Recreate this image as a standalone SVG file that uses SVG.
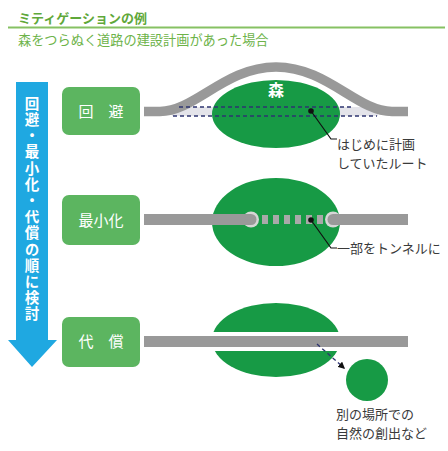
<svg xmlns="http://www.w3.org/2000/svg" width="448" height="451" viewBox="0 0 448 451">
<defs>
<style>
.jp{font-family:"Noto Sans CJK JP","Noto Sans CJK SC",sans-serif;}
.box{fill:#5cb560;}
.boxt{fill:#fff;font-size:15px;text-anchor:middle;}
.forest{fill:#179a45;}
.road{stroke:#999;fill:none;}
.lbl{fill:#3a3a3a;font-size:13px;}
.dash{stroke:#2e3470;stroke-width:1.3;stroke-dasharray:4 3;fill:none;}
.lead{stroke:#111;stroke-width:1.2;fill:none;}
.vt{fill:#fff;font-size:14.5px;font-weight:bold;writing-mode:vertical-rl;letter-spacing:1.7px;}
</style>
<marker id="ah" viewBox="0 0 10 10" refX="8" refY="5" markerWidth="7" markerHeight="7" orient="auto" markerUnits="userSpaceOnUse">
<path d="M0,0 L10,5 L0,10 z" fill="#111"/>
</marker>
</defs>
<rect width="448" height="451" fill="#fff"/>

<g id="title">
<text class="jp" x="18" y="23" font-size="13" font-weight="bold" fill="#5fa83a">ミティゲーションの例</text>
<line x1="8" y1="27.5" x2="445" y2="27.5" stroke="#86c163" stroke-width="2"/>
<text class="jp" x="18" y="45" font-size="13.2" fill="#6db349">森をつらぬく道路の建設計画があった場合</text>
</g>

<g id="order-arrow">
<path d="M16,82 H48 V340 H57 L32,367 L8,340 H16 Z" fill="#1fa8e1"/>
<text class="jp vt" x="32" y="96">回避・最小化・代償の順に検討</text>
</g>

<g id="box-kaihi">
<rect class="box" x="62" y="87" width="78" height="48" rx="7"/>
<text class="jp boxt" x="101" y="117">回　避</text>
</g>
<g id="box-saishouka">
<rect class="box" x="62" y="195" width="78" height="50" rx="7"/>
<text class="jp boxt" x="101" y="226">最小化</text>
</g>
<g id="box-daishou">
<rect class="box" x="62" y="317" width="78" height="50" rx="7"/>
<text class="jp boxt" x="101" y="347">代　償</text>
</g>

<g id="scene-avoid">
<rect x="172" y="107" width="206" height="9" fill="#e4e4ea"/>
<ellipse class="forest" cx="276" cy="114" rx="64" ry="34"/>
<path class="road" stroke-width="9.5" d="M144,111.5 H160 C195,111.5 225,67 276,67 C327,67 357,111.5 392,111.5 H408"/>
<line class="dash" x1="179" y1="107" x2="354" y2="107"/>
<line class="dash" x1="173" y1="116" x2="377" y2="116"/>
<text class="jp" x="276" y="96" font-size="16" font-weight="bold" fill="#fff" text-anchor="middle">森</text>
<circle cx="311" cy="111" r="2.8" fill="#111"/>
<text class="jp lbl" x="337" y="149">はじめに計画</text>
<text class="jp lbl" x="337" y="168">していたルート</text>
</g>

<g id="scene-minimize">
<ellipse class="forest" cx="276" cy="222" rx="64" ry="44"/>
<circle cx="251" cy="219.5" r="8" fill="#d6d6d6"/>
<circle cx="333" cy="219.5" r="8" fill="#d6d6d6"/>
<rect x="144" y="214" width="107" height="11" fill="#999"/>
<circle cx="251" cy="219.5" r="5.5" fill="#999"/>
<rect x="333" y="214" width="75" height="11" fill="#999"/>
<circle cx="333" cy="219.5" r="5.5" fill="#999"/>
<g fill="#a9a9a9">
<rect x="262" y="215" width="6" height="9"/>
<rect x="273" y="215" width="6" height="9"/>
<rect x="284" y="215" width="6" height="9"/>
<rect x="295" y="215" width="6" height="9"/>
<rect x="306" y="215" width="6" height="9"/>
<rect x="317" y="215" width="6" height="9"/>
</g>
<circle cx="311" cy="220" r="2.8" fill="#111"/>
<text class="jp lbl" x="337" y="253">一部をトンネルに</text>
</g>

<g id="scene-compensate">
<ellipse class="forest" cx="276" cy="340" rx="64" ry="37"/>
<line x1="205" y1="341.5" x2="348" y2="341.5" stroke="#fff" stroke-width="19"/>
<line class="road" x1="144" y1="341.5" x2="408" y2="341.5" stroke-width="11"/>
<circle class="forest" cx="367" cy="380" r="21"/>
<text class="jp lbl" x="336" y="419">別の場所での</text>
<text class="jp lbl" x="336" y="438">自然の創出など</text>
</g>

<g id="connectors">
<polyline class="lead" points="311,111 331,139 337,139"/>
<polyline class="lead" points="311,220 331,248 337,248"/>
<line class="dash" x1="317" y1="344" x2="344" y2="368" marker-end="url(#ah)"/>
</g>
</svg>
